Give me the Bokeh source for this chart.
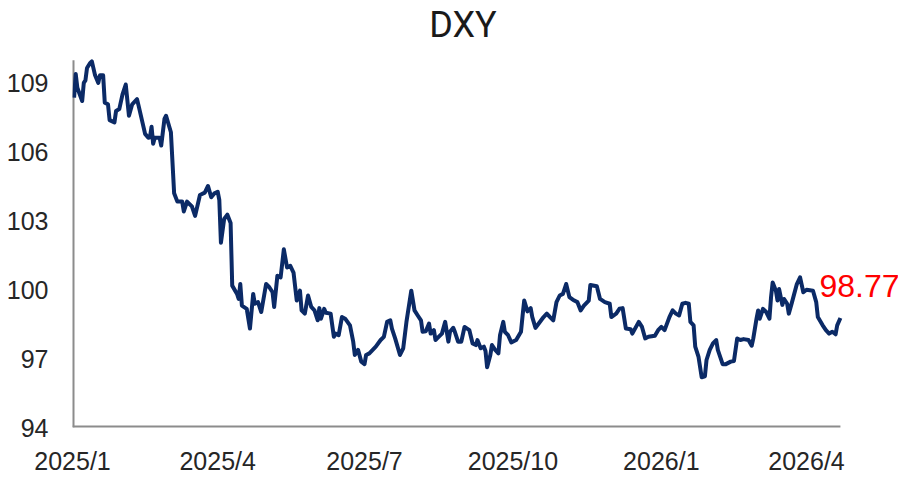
import pandas as pd
from bokeh.plotting import figure
from bokeh.models import ColumnDataSource, FixedTicker, Label, Range1d
from bokeh.embed import file_html
from bokeh.resources import INLINE

title_text = "DXY"
last_text = "98.77"

dates = [
    "2025-01-02", "2025-01-03", "2025-01-04", "2025-01-07", "2025-01-08", "2025-01-09", "2025-01-10",
    "2025-01-12", "2025-01-13", "2025-01-15", "2025-01-17", "2025-01-18", "2025-01-20", "2025-01-21",
    "2025-01-23", "2025-01-24", "2025-01-27", "2025-01-28", "2025-01-30", "2025-02-01", "2025-02-03",
    "2025-02-05", "2025-02-07", "2025-02-10", "2025-02-11", "2025-02-15", "2025-02-17", "2025-02-18",
    "2025-02-19", "2025-02-20", "2025-02-21", "2025-02-24", "2025-02-25", "2025-02-27", "2025-02-28",
    "2025-03-03", "2025-03-05", "2025-03-07", "2025-03-10", "2025-03-11", "2025-03-13", "2025-03-16",
    "2025-03-18", "2025-03-21", "2025-03-24", "2025-03-26", "2025-03-28", "2025-03-30", "2025-04-01",
    "2025-04-02", "2025-04-03", "2025-04-05", "2025-04-07", "2025-04-09", "2025-04-10", "2025-04-13",
    "2025-04-14", "2025-04-15", "2025-04-16", "2025-04-19", "2025-04-21", "2025-04-23", "2025-04-24",
    "2025-04-26", "2025-04-28", "2025-05-01", "2025-05-03", "2025-05-05", "2025-05-06", "2025-05-08",
    "2025-05-10", "2025-05-12", "2025-05-14", "2025-05-16", "2025-05-18", "2025-05-20", "2025-05-22",
    "2025-05-23", "2025-05-25", "2025-05-27", "2025-05-29", "2025-05-31", "2025-06-02", "2025-06-03",
    "2025-06-04", "2025-06-06", "2025-06-07", "2025-06-10", "2025-06-12", "2025-06-13", "2025-06-15",
    "2025-06-17", "2025-06-19", "2025-06-22", "2025-06-24", "2025-06-25", "2025-06-27", "2025-06-29",
    "2025-07-01", "2025-07-02", "2025-07-04", "2025-07-08", "2025-07-11", "2025-07-13", "2025-07-15",
    "2025-07-17", "2025-07-18", "2025-07-20", "2025-07-23", "2025-07-25", "2025-07-27", "2025-07-30",
    "2025-08-01", "2025-08-03", "2025-08-05", "2025-08-06", "2025-08-08", "2025-08-10", "2025-08-11",
    "2025-08-13", "2025-08-14", "2025-08-15", "2025-08-18", "2025-08-20", "2025-08-22", "2025-08-23",
    "2025-08-25", "2025-08-26", "2025-08-28", "2025-08-30", "2025-09-01", "2025-09-04", "2025-09-06",
    "2025-09-08", "2025-09-09", "2025-09-11", "2025-09-13", "2025-09-14", "2025-09-15", "2025-09-17",
    "2025-09-18", "2025-09-20", "2025-09-22", "2025-09-23", "2025-09-25", "2025-09-26", "2025-09-28",
    "2025-09-30", "2025-10-03", "2025-10-06", "2025-10-07", "2025-10-08", "2025-10-10", "2025-10-12",
    "2025-10-13", "2025-10-15", "2025-10-17", "2025-10-20", "2025-10-22", "2025-10-24", "2025-10-26",
    "2025-10-28", "2025-10-30", "2025-11-01", "2025-11-03", "2025-11-05", "2025-11-08", "2025-11-10",
    "2025-11-12", "2025-11-14", "2025-11-17", "2025-11-18", "2025-11-22", "2025-11-24", "2025-11-27",
    "2025-11-30", "2025-12-01", "2025-12-04", "2025-12-06", "2025-12-08", "2025-12-10", "2025-12-13",
    "2025-12-14", "2025-12-18", "2025-12-20", "2025-12-22", "2025-12-24", "2025-12-28", "2025-12-30",
    "2026-01-01", "2026-01-03", "2026-01-06", "2026-01-08", "2026-01-10", "2026-01-12", "2026-01-14",
    "2026-01-16", "2026-01-18", "2026-01-19", "2026-01-21", "2026-01-22", "2026-01-24", "2026-01-26",
    "2026-01-28", "2026-01-29", "2026-01-31", "2026-02-02", "2026-02-04", "2026-02-05", "2026-02-08",
    "2026-02-10", "2026-02-13", "2026-02-15", "2026-02-17", "2026-02-19", "2026-02-21", "2026-02-24",
    "2026-02-26", "2026-02-27", "2026-03-01", "2026-03-02", "2026-03-03", "2026-03-05", "2026-03-07",
    "2026-03-09", "2026-03-10", "2026-03-11", "2026-03-13", "2026-03-14", "2026-03-15", "2026-03-17",
    "2026-03-18", "2026-03-20", "2026-03-21", "2026-03-23", "2026-03-26", "2026-03-28", "2026-03-30",
    "2026-04-01", "2026-04-05", "2026-04-07", "2026-04-08", "2026-04-11", "2026-04-13", "2026-04-15",
    "2026-04-17", "2026-04-19", "2026-04-20", "2026-04-22",
]

dxy = [
    108.37, 109.40, 108.80, 108.22, 109.01, 109.12, 109.66,
    109.88, 109.95, 109.34, 109.01, 109.34, 109.34, 108.15,
    108.08, 107.39, 107.29, 107.79, 107.87, 108.51, 108.94,
    107.58, 108.08, 108.30, 108.01, 106.79, 106.62, 106.64,
    107.10, 106.36, 106.62, 106.62, 106.28, 107.44, 107.58,
    106.86, 104.20, 103.84, 103.84, 103.41, 103.84, 103.63,
    103.22, 104.13, 104.23, 104.52, 104.03, 104.20, 104.27,
    103.91, 102.05, 103.08, 103.27, 102.91, 100.18, 99.82,
    99.60, 100.25, 99.31, 99.17, 98.31, 99.82, 99.39,
    99.46, 99.03, 100.25, 100.11, 99.89, 99.25, 100.61,
    100.54, 101.76, 100.97, 101.04, 100.75, 99.53, 99.96,
    99.10, 98.96, 99.75, 99.25, 99.10, 98.67, 99.20,
    98.74, 99.17, 99.00, 98.96, 97.95, 98.09, 98.02,
    98.81, 98.74, 98.45, 97.74, 97.16, 97.38, 96.87,
    96.76, 97.16, 97.23, 97.52, 97.81, 97.95, 98.60,
    98.67, 98.31, 97.88, 97.16, 97.45, 98.60, 99.96,
    99.10, 98.88, 98.67, 98.17, 98.19, 98.53, 98.09,
    98.24, 97.81, 97.88, 98.09, 98.60, 97.74, 98.17,
    98.34, 98.17, 97.74, 97.74, 98.38, 98.24, 97.66,
    97.59, 97.81, 97.45, 97.52, 97.33, 96.62, 97.16,
    97.59, 97.38, 97.23, 98.02, 98.60, 98.17, 98.02,
    97.71, 97.81, 98.17, 98.88, 99.53, 99.06, 99.20,
    98.81, 98.34, 98.53, 98.81, 98.96, 98.81, 98.67,
    99.46, 99.75, 99.82, 100.25, 99.68, 99.53, 99.46,
    99.10, 99.31, 99.53, 100.21, 100.15, 99.60, 99.46,
    99.39, 98.81, 98.96, 99.17, 99.20, 98.31, 98.28,
    98.09, 98.60, 98.38, 97.88, 97.95, 98.00, 98.24,
    98.38, 98.24, 98.81, 99.10, 98.96, 98.88, 99.39,
    99.43, 99.39, 98.60, 98.45, 97.52, 97.09, 96.19,
    96.23, 96.94, 97.38, 97.66, 97.81, 97.38, 96.76,
    96.76, 96.87, 96.90, 97.88, 97.81, 97.85, 97.81,
    97.56, 97.88, 98.74, 99.10, 98.74, 99.17, 99.03,
    98.74, 99.68, 100.32, 99.96, 99.53, 100.03, 99.34,
    99.60, 99.39, 98.96, 99.46, 100.25, 100.54, 99.89,
    100.00, 99.96, 99.46, 98.81, 98.45, 98.24, 98.09,
    98.17, 98.06, 98.45, 98.77,
]

x_tick_dates = ["2025-01-01", "2025-04-01", "2025-07-01", "2025-10-01", "2026-01-01", "2026-04-01"]
x_tick_labels = ["2025/1", "2025/4", "2025/7", "2025/10", "2026/1", "2026/4"]
y_ticks = [94, 97, 100, 103, 106, 109]
x_start = "2025-01-01"
y_axis_min, y_axis_max = 94, 110

# visible window (extra room on the right and top for the annotations)
x_view_end = "2026-05-28"
y_view_max = 112.6
title_x = "2025-08-31"
title_y = 111.55


def to_ms(d):
    return pd.Timestamp(d).value / 1e6


xs = [to_ms(d) for d in dates]
src = ColumnDataSource(dict(x=xs, y=dxy))

p = figure(
    width=898, height=477,
    x_axis_type="datetime",
    x_range=Range1d(to_ms(x_start), to_ms(x_view_end)),
    y_range=Range1d(y_axis_min, y_view_max),
    output_backend="svg", toolbar_location=None,
    min_border_left=72, min_border_right=0, min_border_top=0, min_border_bottom=48,
)

axis_color = "#8c8c8c"

# axis lines limited to the axis extent
p.segment(x0=[to_ms(x_start)], y0=[y_axis_min], x1=[xs[-1]], y1=[y_axis_min],
          line_color=axis_color, line_width=4)
p.segment(x0=[to_ms(x_start)], y0=[y_axis_min], x1=[to_ms(x_start)], y1=[y_axis_max],
          line_color=axis_color, line_width=4)

p.line("x", "y", source=src, line_color="#0b2a66", line_width=4, line_join="round")

p.grid.visible = False
p.outline_line_color = None
p.background_fill_color = "white"
p.border_fill_color = "white"

tick_ms = [to_ms(d) for d in x_tick_dates]
p.xaxis.ticker = FixedTicker(ticks=tick_ms)
p.xaxis.major_label_overrides = {t: lab for t, lab in zip(tick_ms, x_tick_labels)}
p.yaxis.ticker = FixedTicker(ticks=y_ticks)

for ax in (p.xaxis[0], p.yaxis[0]):
    ax.axis_line_color = None
    ax.major_tick_line_color = None
    ax.minor_tick_line_color = None
    ax.major_tick_out = 0
    ax.major_tick_in = 0
    ax.minor_tick_out = 0
    ax.major_label_text_font = "Liberation Sans"
    ax.major_label_text_font_size = "25px"
    ax.major_label_text_color = "#262626"

p.xaxis.major_label_standoff = 19
p.yaxis.major_label_standoff = 24

title = Label(
    x=to_ms(title_x), y=title_y, text=title_text,
    text_color="#1a1a1a", text_font="Roboto", text_font_size="36px",
    text_baseline="middle", text_align="center",
)
p.add_layout(title)

lab = Label(
    x=xs[-1], y=dxy[-1], text=last_text,
    x_offset=-21, y_offset=32,
    text_color="#ff0000", text_font="Liberation Sans", text_font_size="32px",
    text_baseline="middle", text_align="left",
)
p.add_layout(lab)

open("out.html", "w").write(file_html(p, INLINE))
